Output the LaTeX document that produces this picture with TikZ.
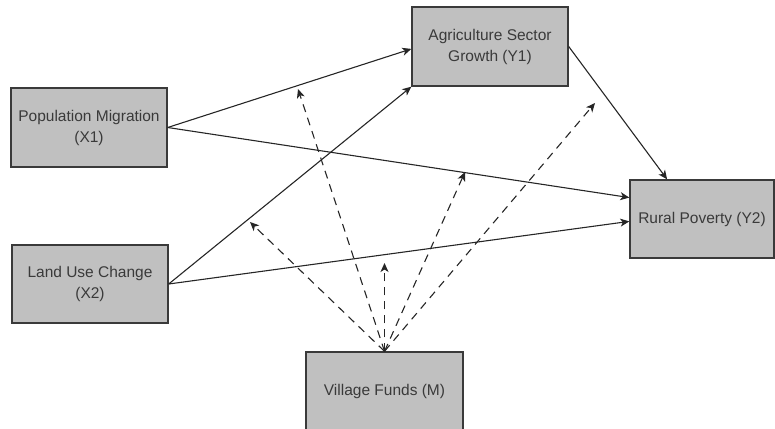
\documentclass[tikz,border=0pt]{standalone}
\usepackage{fontspec}
\setmainfont{Liberation Sans}
\usetikzlibrary{arrows.meta,calc}
\definecolor{boxfill}{HTML}{C0C0C0}
\definecolor{boxline}{HTML}{3A3A3A}
\definecolor{txt}{HTML}{3A3A3A}
\definecolor{ln}{HTML}{262626}
\begin{document}
\begin{tikzpicture}[x=1pt,y=-1pt,
  var/.style={draw=boxline,line width=1.4pt,fill=boxfill,text=txt,align=center,
    inner sep=0pt,font=\fontsize{15.5}{21}\selectfont},
  path/.style={draw=ln,line width=1.1pt,-{Stealth[length=9pt,width=8pt,inset=2.5pt]}},
  moder/.style={draw=ln,line width=1.1pt,dash pattern=on 8pt off 6pt,-{Stealth[length=9pt,width=8pt,inset=2.5pt]}}]
\useasboundingbox (0,0) rectangle (775,428);
\node[var,minimum width=156pt,minimum height=79pt] (X1) at (89,127.5) {Population Migration\\(X1)};
\node[var,minimum width=156pt,minimum height=79pt] (Y1) at (490,46.5) {Agriculture Sector\\Growth (Y1)};
\node[var,minimum width=156pt,minimum height=78pt] (X2) at (90,284) {Land Use Change\\(X2)};
\node[var,minimum width=144pt,minimum height=78pt] (Y2) at (702,219) {Rural Poverty (Y2)};
\node[var,minimum width=157pt,minimum height=78pt] (M) at (384.5,391) {Village Funds (M)};
% regression paths
\draw[path] (X1.east) -- ($(Y1.north west)!0.53!(Y1.south west)$);
\draw[path] (X2.east) -- (Y1.south west);
\draw[path] (X1.east) -- ($(Y2.north west)!0.23!(Y2.south west)$);
\draw[path] (X2.east) -- ($(Y2.north west)!0.53!(Y2.south west)$);
\draw[path] (Y1.east) -- ($(Y2.north west)!0.26!(Y2.north east)$);
% moderation targets
\coordinate (m1) at (298,89);
\coordinate (m2) at (595,103);
\coordinate (m3) at (465,172);
\coordinate (m4) at (250,222);
\coordinate (m5) at (384.5,263);
\draw[moder] (M.north) -- (m1);
\draw[moder] (M.north) -- (m2);
\draw[moder] (M.north) -- (m3);
\draw[moder] (M.north) -- (m4);
\draw[moder] (M.north) -- (m5);
\end{tikzpicture}
\end{document}
